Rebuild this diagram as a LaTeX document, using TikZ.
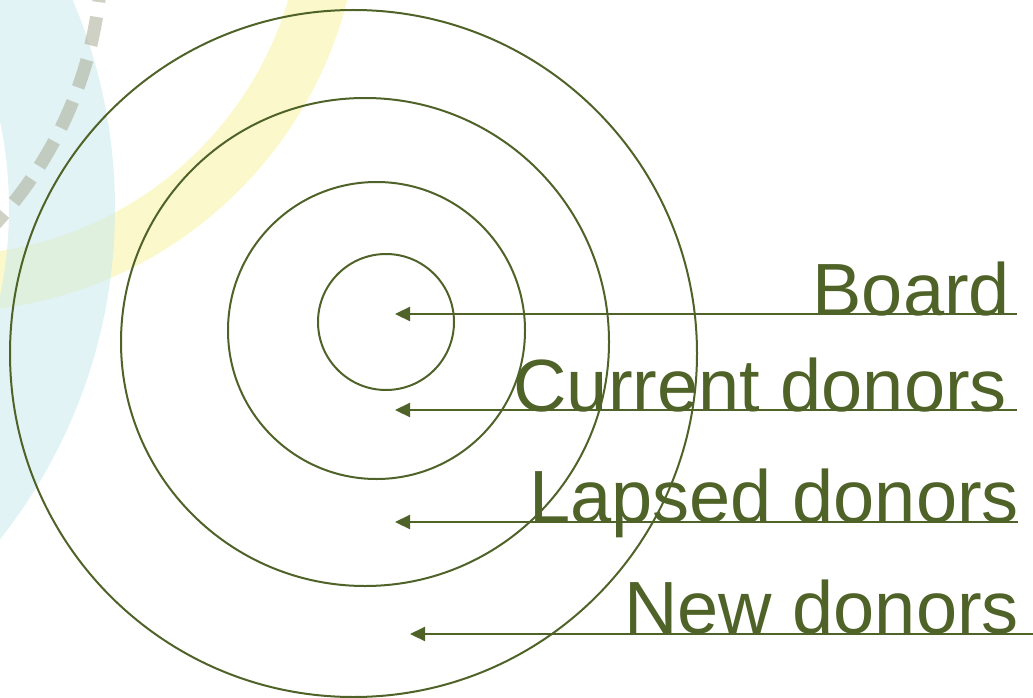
\documentclass[tikz,border=0pt]{standalone}
\usepackage{fontspec}
\setmainfont{Liberation Sans}
\usetikzlibrary{arrows.meta,calc}
\definecolor{donorgreen}{RGB}{79,98,40}
\definecolor{bgyellow}{RGB}{251,248,204}
\definecolor{bgcyan}{RGB}{205,235,237}
\definecolor{dashgray}{RGB}{170,172,150}
\tikzset{
  ring/.style={draw=donorgreen, line width=2pt, circle, inner sep=0pt, outer sep=0pt},
  pointer/.style={draw=donorgreen, line width=2.2pt, -{Triangle[length=15pt,width=14pt]}},
  lbl/.style={text=donorgreen, font=\fontsize{74pt}{80pt}\selectfont, inner sep=0pt, outer sep=0pt, anchor=base east}
}
\begin{document}
\begin{tikzpicture}[x=1pt,y=-1pt]
\useasboundingbox (0,0) rectangle (1033,698);
\begin{scope}
\clip (0,0) rectangle (1033,698);
% yellow band
\draw[bgyellow, line width=57pt] (-54,-102) circle (385.5);
% cyan ring
\fill[bgcyan, opacity=0.6, even odd rule] (-418,208.5) circle (533) (-418,208.5) circle (427);
% dashed arc
\draw[dashgray, opacity=0.55, line width=13pt, dash pattern=on 29pt off 15pt]
  ($(-300,-49)+(3.17:402)$) arc[start angle=3.17, end angle=50, radius=402];
\end{scope}
% concentric rings
\node[ring, minimum size=687pt] (c4) at (353.5,353.5) {};
\node[ring, minimum size=488pt] (c3) at (365,342) {};
\node[ring, minimum size=297pt] (c2) at (376.5,330.5) {};
\node[ring, minimum size=136pt] (c1) at (386,322) {};
% labels
\node[lbl] (tb) at (1010,315) {Board};
\node[lbl] (tc) at (1007,411) {Current donors};
\node[lbl] (tl) at (1019,522) {Lapsed donors};
\node[lbl] (tn) at (1019,633) {New donors};
% pointers
\coordinate (b0) at (1017,314); \coordinate (b1) at (395,314);
\coordinate (k0) at (1017,410); \coordinate (k1) at (395,410);
\coordinate (l0) at (1018,522); \coordinate (l1) at (395,522);
\coordinate (n0) at (1034,634); \coordinate (n1) at (410,634);
\draw[pointer] (b0) -- (b1);
\draw[pointer] (k0) -- (k1);
\draw[pointer] (l0) -- (l1);
\draw[pointer] (n0) -- (n1);
\end{tikzpicture}
\end{document}
